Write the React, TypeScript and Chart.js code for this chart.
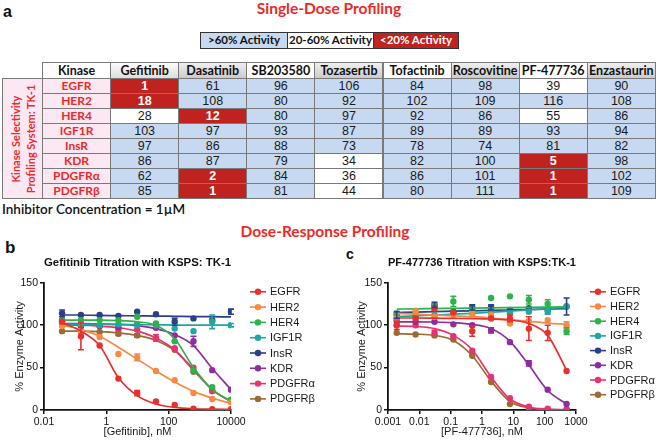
import React, { useEffect, useRef } from "react";
import { Chart, registerables } from "chart.js";

Chart.register(...registerables);

// ---------- Single-dose table data ----------
const kinases = ["EGFR", "HER2", "HER4", "IGF1R", "InsR", "KDR", "PDGFRα", "PDGFRβ"];
const inhibitors = ["Gefitinib", "Dasatinib", "SB203580", "Tozasertib", "Tofactinib", "Roscovitine", "PF-477736", "Enzastaurin"];
const gefitinibActivity = [1, 18, 28, 103, 97, 86, 62, 85];
const dasatinibActivity = [61, 108, 12, 97, 86, 87, 2, 1];
const sb203580Activity = [96, 80, 80, 93, 88, 79, 84, 81];
const tozasertibActivity = [106, 92, 97, 87, 73, 34, 36, 44];
const tofactinibActivity = [84, 102, 92, 89, 78, 82, 86, 80];
const roscovitineActivity = [98, 109, 86, 89, 74, 100, 101, 111];
const pf477736Activity = [39, 116, 55, 93, 81, 5, 1, 1];
const enzastaurinActivity = [90, 108, 86, 94, 82, 98, 102, 109];
const activityColumns = [gefitinibActivity, dasatinibActivity, sb203580Activity, tozasertibActivity, tofactinibActivity, roscovitineActivity, pf477736Activity, enzastaurinActivity];
const legendLabels = [">60% Activity", "20-60% Activity", "<20% Activity"];

// ---------- Dose-response data ----------
const kinaseColors = ["#e8302c", "#f58a45", "#2db34a", "#1fa7a0", "#2c3f8a", "#8e2d9e", "#e8336f", "#9c6b33"];

const gefitinibConc = [0.038, 0.153, 0.61, 2.44, 9.77, 39.1, 156, 625, 2500, 10000];
const gefTickValues = [0.01, 1, 100, 10000];
const gefTickLabels = ["0.01", "1", "100", "10000"];

const gefEGFR = [104, 87, 76, 37, 20, 10, 6, 1.5, 1, 1];
const gefEGFRErr = [0, 16, 0, 0, 3, 0, 0, 0, 0, 0];
const gefEGFRFit = [103, 93, 76, 38, 17, 7, 3, 1.5, 1, 0.8];
const gefHER2 = [99, 92, 86, 66, 62, 46, 35, 20, 13, 9];
const gefHER2Err = [0, 0, 0, 0, 4, 0, 0, 0, 0, 0];
const gefHER2Fit = [100, 95, 87, 74, 60, 46, 33, 22, 14, 8];
const gefHER4 = [106, 106, 106, 106, 110, 102, 81, 47, 27, 12];
const gefHER4Err = [0, 0, 0, 0, 0, 0, 0, 0, 0, 0];
const gefHER4Fit = [106, 106, 106, 105.5, 104, 100, 84, 50, 24, 10];
const gefIGF1R = [101, 101, 100, 101, 100, 100, 96, 93, 104, 100];
const gefIGF1RErr = [0, 0, 0, 0, 0, 0, 0, 0, 8, 2];
const gefIGF1RFit = [101, 101, 101, 100.8, 100.6, 100.4, 100.2, 100, 100, 100];
const gefInsR = [114, 112, 112, 111, 116, 113, 104, 108, 106, 116];
const gefInsRErr = [4, 0, 0, 0, 0, 0, 4, 0, 0, 3];
const gefInsRFit = [112, 112, 111.5, 111.3, 111, 110.8, 110.5, 110.2, 110, 109.8];
const gefKDR = [106, 99, 99, 98, 101, 97, 88, 81, 47, 24];
const gefKDRErr = [0, 0, 0, 0, 0, 0, 0, 6, 0, 0];
const gefKDRFit = [102, 102, 101.5, 101, 99.5, 96, 89, 76, 49, 24];
const gefPDGFRa = [104, 99, 99, 95, 95, 85, 73, 50, 23, 10];
const gefPDGFRaErr = [0, 0, 0, 0, 0, 4, 0, 0, 0, 0];
const gefPDGFRaFit = [100, 100, 99, 97, 93, 85, 71, 48, 24, 10];
const gefPDGFRb = [93, 93, 92, 90, 88, 84, 71, 45, 22, 10];
const gefPDGFRbErr = [0, 0, 0, 2, 2, 0, 0, 0, 0, 0];
const gefPDGFRbFit = [93, 93, 92.5, 91, 88, 82, 70, 47, 24, 10];

const pfConc = [0.0019, 0.0076, 0.0305, 0.122, 0.488, 1.95, 7.81, 31.3, 125, 500];
const pfTickValues = [0.001, 0.01, 0.1, 1, 10, 100, 1000];
const pfTickLabels = ["0.001", "0.01", "0.1", "1", "10", "100", "1000"];

const pfEGFR = [100, 108, 120, 115, 93, 108, 108, 96, 91, 46];
const pfEGFRErr = [5, 0, 3, 0, 6, 0, 4, 14, 9, 0];
const pfEGFRFit = [108.5, 108.5, 108.3, 108, 107.8, 107.3, 106, 102, 88, 47];
const pfHER2 = [108, 117, 110, 112, 113, 112, 102, 105, 106, 100];
const pfHER2Err = [0, 0, 0, 0, 3, 0, 0, 0, 0, 4];
const pfHER2Fit = [114, 113, 112, 111, 110, 108.5, 106.5, 104.5, 102.5, 101];
const pfHER4 = [114, 115, 124, 128, 119, 132, 134, 130, 125, 93];
const pfHER4Err = [0, 0, 0, 6, 0, 0, 0, 5, 5, 4];
const pfHER4Fit = [119, 119.3, 119.6, 119.9, 120.2, 120.5, 120.8, 121.1, 121.4, 121.7];
const pfIGF1R = [108, 112, 112, 113, 115, 116, 114, 116, 116, 122];
const pfIGF1RErr = [0, 0, 0, 0, 0, 0, 0, 0, 3, 0];
const pfIGF1RFit = [110, 111, 112, 113, 114, 115.3, 116.6, 118, 119.5, 121];
const pfInsR = [112, 110, 124, 116, 121, 121, 118, 120, 118, 122];
const pfInsRErr = [4, 0, 3, 0, 3, 3, 0, 0, 0, 10];
const pfInsRFit = [115, 115.5, 116, 116.5, 117, 117.5, 118, 118.5, 119, 119.5];
const pfKDR = [105, 104, 104, 101, 100, 94, 80, 55, 24, 7];
const pfKDRErr = [0, 0, 0, 0, 0, 3, 0, 3, 0, 0];
const pfKDRFit = [104, 104, 103.8, 103, 101, 96, 81, 53, 23, 7];
const pfPDGFRa = [100, 100, 91, 87, 70, 39, 14, 4, 1.5, 1];
const pfPDGFRaErr = [0, 0, 3, 0, 0, 0, 0, 0, 0, 0];
const pfPDGFRaFit = [99, 98.5, 96, 88, 71, 39, 13, 3.5, 1, 0.5];
const pfPDGFRb = [91, 89, 88, 83, 64, 33, 7, 2, 1, 0.5];
const pfPDGFRbErr = [0, 0, 0, 0, 0, 0, 0, 0, 0, 0];
const pfPDGFRbFit = [90, 89.5, 88, 82, 64, 34, 10, 2.5, 0.5, 0.2];

const gefValues = [gefEGFR, gefHER2, gefHER4, gefIGF1R, gefInsR, gefKDR, gefPDGFRa, gefPDGFRb];
const gefErrors = [gefEGFRErr, gefHER2Err, gefHER4Err, gefIGF1RErr, gefInsRErr, gefKDRErr, gefPDGFRaErr, gefPDGFRbErr];
const gefFits = [gefEGFRFit, gefHER2Fit, gefHER4Fit, gefIGF1RFit, gefInsRFit, gefKDRFit, gefPDGFRaFit, gefPDGFRbFit];
const pfValues = [pfEGFR, pfHER2, pfHER4, pfIGF1R, pfInsR, pfKDR, pfPDGFRa, pfPDGFRb];
const pfErrors = [pfEGFRErr, pfHER2Err, pfHER4Err, pfIGF1RErr, pfInsRErr, pfKDRErr, pfPDGFRaErr, pfPDGFRbErr];
const pfFits = [pfEGFRFit, pfHER2Fit, pfHER4Fit, pfIGF1RFit, pfInsRFit, pfKDRFit, pfPDGFRaFit, pfPDGFRbFit];

const ARIAL = "'Liberation Sans', Arial, sans-serif";
const CALIBRI = "Lato, 'Open Sans', sans-serif";
const RED_TEXT = "#ec2a2a";

const errorBarPlugin = {
  id: "errorBars",
  afterDatasetsDraw(chart: any) {
    const ctx = chart.ctx;
    const yScale = chart.scales.y;
    chart.data.datasets.forEach((ds: any, di: number) => {
      if (!ds.errors) return;
      const meta = chart.getDatasetMeta(di);
      ds.errors.forEach((e: number, i: number) => {
        if (!e) return;
        const pt = meta.data[i];
        const v = ds.data[i].y;
        const y1 = yScale.getPixelForValue(v + e);
        const y2 = yScale.getPixelForValue(Math.max(0, v - e));
        ctx.save();
        ctx.strokeStyle = ds.borderColor;
        ctx.lineWidth = 1.6;
        ctx.beginPath();
        ctx.moveTo(pt.x, y1);
        ctx.lineTo(pt.x, y2);
        ctx.moveTo(pt.x - 3, y1);
        ctx.lineTo(pt.x + 3, y1);
        ctx.moveTo(pt.x - 3, y2);
        ctx.lineTo(pt.x + 3, y2);
        ctx.stroke();
        ctx.restore();
      });
    });
  },
};

const sideLegendPlugin = {
  id: "sideLegend",
  afterDraw(chart: any) {
    const opts = chart.options.plugins.sideLegend;
    if (!opts) return;
    const ctx = chart.ctx;
    const { right, top } = chart.chartArea;
    const x = right + opts.dx;
    chart.data.datasets
      .filter((d: any) => d.isPoints)
      .forEach((d: any, i: number) => {
        const y = top + opts.dy + i * opts.step;
        ctx.save();
        ctx.strokeStyle = d.borderColor;
        ctx.fillStyle = d.borderColor;
        ctx.lineWidth = 1.6;
        ctx.beginPath();
        ctx.moveTo(x - 8, y);
        ctx.lineTo(x + 8, y);
        ctx.stroke();
        ctx.beginPath();
        ctx.arc(x, y, 3.2, 0, Math.PI * 2);
        ctx.fill();
        ctx.fillStyle = "#1a1a1a";
        ctx.font = `11px ${ARIAL}`;
        ctx.textBaseline = "middle";
        ctx.textAlign = "left";
        ctx.fillText(d.label, x + 12, y + 0.5);
        ctx.restore();
      });
  },
};

type DoseProps = {
  conc: number[];
  values: number[][];
  errors: number[][];
  fits: number[][];
  tickValues: number[];
  tickLabels: string[];
  title: string;
  xTitle: string;
  left: number;
  width: number;
  yWidth: number;
  padRight: number;
  legendDx: number;
  legendStep: number;
};

function DoseChart(p: DoseProps) {
  const ref = useRef<HTMLCanvasElement>(null);
  useEffect(() => {
    if (!ref.current) return;
    const datasets: any[] = [];
    kinases.forEach((k, i) => {
      datasets.push({
        type: "line",
        label: k + " fit",
        data: p.conc.map((x, j) => ({ x, y: p.fits[i][j] })),
        borderColor: kinaseColors[i],
        backgroundColor: kinaseColors[i],
        borderWidth: 1.7,
        pointRadius: 0,
        cubicInterpolationMode: "monotone",
        fill: false,
      });
      datasets.push({
        type: "scatter",
        label: k,
        isPoints: true,
        errors: p.errors[i],
        data: p.conc.map((x, j) => ({ x, y: p.values[i][j] })),
        borderColor: kinaseColors[i],
        backgroundColor: kinaseColors[i],
        pointRadius: 3.2,
        pointBorderWidth: 0,
        showLine: false,
      });
    });
    const tickFont = { family: ARIAL, size: 10.5 };
    const chart = new Chart(ref.current, {
      type: "line",
      data: { datasets },
      plugins: [errorBarPlugin, sideLegendPlugin],
      options: {
        responsive: false,
        animation: false,
        devicePixelRatio: 1,
        layout: { padding: { right: p.padRight, left: 0, top: 0, bottom: 0 } },
        plugins: {
          legend: { display: false },
          tooltip: { enabled: false },
          title: {
            display: true,
            text: p.title,
            fullSize: false,
            color: "#111",
            font: { family: ARIAL, size: 11.5, weight: "bold" },
            padding: { top: 6, bottom: 13 },
          },
          sideLegend: { dx: p.legendDx, dy: 9, step: p.legendStep },
        } as any,
        scales: {
          x: {
            type: "logarithmic",
            min: p.tickValues[0],
            max: p.tickValues[p.tickValues.length - 1],
            afterBuildTicks: (s: any) => {
              s.ticks = p.tickValues.map((v) => ({ value: v }));
            },
            afterFit: (s: any) => {
              s.height = 30;
            },
            ticks: {
              autoSkip: false,
              maxRotation: 0,
              padding: 2,
              color: "#111",
              font: tickFont,
              callback: (v: any) => {
                const idx = p.tickValues.findIndex((t) => Math.abs(t - v) / t < 1e-6);
                return idx >= 0 ? p.tickLabels[idx] : "";
              },
            },
            grid: { drawOnChartArea: false, drawTicks: true, tickLength: 4, color: "#111", lineWidth: 1.5 },
            border: { display: true, color: "#111", width: 1.8 },
            title: { display: true, text: p.xTitle, color: "#1a1a1a", font: { family: ARIAL, size: 11 }, padding: { top: 0, bottom: 1 } },
          } as any,
          y: {
            min: 0,
            max: 150,
            afterFit: (s: any) => {
              s.width = p.yWidth;
            },
            ticks: { stepSize: 50, padding: 2, color: "#111", font: tickFont },
            grid: { drawOnChartArea: false, drawTicks: true, tickLength: 4, color: "#111", lineWidth: 1.5 },
            border: { display: true, color: "#111", width: 1.8 },
            title: { display: true, text: "% Enzyme Activity", color: "#1a1a1a", font: { family: ARIAL, size: 11 }, padding: { top: 4, bottom: 0 } },
          } as any,
        },
      } as any,
    });
    return () => chart.destroy();
  }, []);
  return (
    <canvas
      ref={ref}
      width={p.width}
      height={190}
      style={{ position: "absolute", left: p.left, top: 250, width: p.width, height: 190 }}
    />
  );
}

const TABLE_LEFT = 42;
const TABLE_TOP = 62;
const COL_W = 68.1;
const HEAD_H = 16;
const ROW_H = 15;
const BORDER = "1px solid #7a7a7a";

function cellColor(v: number) {
  if (v > 60) return { bg: "#c6d9f0", fg: "#1a1a1a", bold: false };
  if (v >= 20) return { bg: "#ffffff", fg: "#1a1a1a", bold: false };
  return { bg: "#c0221f", fg: "#ffffff", bold: true };
}

const headerShade = [false, true, true, false, true, false, true, false, true];

function ActivityTable() {
  const cells: any[] = [];
  const headers = ["Kinase", ...inhibitors];
  headers.forEach((h, c) => {
    const shaded = headerShade[c];
    cells.push(
      <div
        key={"h" + c}
        style={{
          position: "absolute",
          left: TABLE_LEFT + c * COL_W,
          top: TABLE_TOP,
          width: COL_W + 1,
          height: HEAD_H + 1,
          boxSizing: "border-box",
          border: BORDER,
          background: shaded
            ? c === 1
              ? "linear-gradient(#fbfbfb, #dedede)"
              : "linear-gradient(#efefef, #cbcbcb)"
            : "#ffffff",
          font: `bold 12.5px ${CALIBRI}`,
          color: "#111",
          textAlign: "center",
          lineHeight: HEAD_H - 1 + "px",
          whiteSpace: "nowrap",
        }}
      >
        {h}
      </div>
    );
  });
  kinases.forEach((k, r) => {
    const top = TABLE_TOP + HEAD_H + r * ROW_H;
    cells.push(
      <div
        key={"k" + r}
        style={{
          position: "absolute",
          left: TABLE_LEFT,
          top,
          width: COL_W + 1,
          height: ROW_H + 1,
          boxSizing: "border-box",
          border: BORDER,
          background: "#fbe8f3",
          font: `bold 12px ${CALIBRI}`,
          color: RED_TEXT,
          textAlign: "center",
          lineHeight: ROW_H - 1 + "px",
        }}
      >
        {k}
      </div>
    );
    activityColumns.forEach((col, c) => {
      const v = col[r];
      const cc = cellColor(v);
      cells.push(
        <div
          key={"v" + r + "_" + c}
          style={{
            position: "absolute",
            left: TABLE_LEFT + (c + 1) * COL_W,
            top,
            width: COL_W + 1,
            height: ROW_H + 1,
            boxSizing: "border-box",
            border: BORDER,
            background: cc.bg,
            font: `${cc.bold ? "bold " : ""}12.5px ${ARIAL}`,
            color: cc.fg,
            textAlign: "center",
            lineHeight: ROW_H - 1 + "px",
          }}
        >
          {v}
        </div>
      );
    });
  });
  const sideTop = TABLE_TOP + HEAD_H;
  const sideH = kinases.length * ROW_H + 1;
  cells.push(
    <div
      key="side"
      style={{
        position: "absolute",
        left: 2,
        top: sideTop,
        width: TABLE_LEFT - 2 + 1,
        height: sideH,
        boxSizing: "border-box",
        border: BORDER,
        background: "#fbe8f3",
        overflow: "hidden",
      }}
    >
      <div
        style={{
          position: "absolute",
          left: "50%",
          top: "50%",
          transform: "translate(-50%, -50%) rotate(-90deg)",
          font: `bold 11px ${CALIBRI}`,
          color: RED_TEXT,
          textAlign: "center",
          lineHeight: "14.5px",
          whiteSpace: "nowrap",
        }}
      >
        Kinase Selectivity
        <br />
        Profiling System: TK-1
      </div>
    </div>
  );
  return <>{cells}</>;
}

function ActivityLegend() {
  const bgs = ["#c6d9f0", "#ffffff", "#c0221f"];
  const fgs = ["#111", "#111", "#fff"];
  const widths = [87, 86, 85];
  let x = 200;
  return (
    <>
      {legendLabels.map((l, i) => {
        const el = (
          <div
            key={l}
            style={{
              position: "absolute",
              left: x,
              top: 32,
              width: widths[i] + 1,
              height: 17,
              boxSizing: "border-box",
              border: "1.5px solid #333",
              background: bgs[i],
              color: fgs[i],
              font: `bold 11.5px ${CALIBRI}`,
              textAlign: "center",
              lineHeight: "14px",
              whiteSpace: "nowrap",
            }}
          >
            {l}
          </div>
        );
        x += widths[i];
        return el;
      })}
    </>
  );
}

export default function App() {
  return (
    <div
      style={{
        position: "absolute",
        left: 0,
        top: 0,
        width: 660,
        height: 440,
        background: "#fff",
        overflow: "hidden",
      }}
    >
      <div style={{ position: "absolute", left: 3, top: 3, font: `bold 16px ${ARIAL}`, lineHeight: "18px", color: "#111" }}>a</div>
      <div
        style={{
          position: "absolute",
          left: 229,
          width: 200,
          top: -1,
          textAlign: "center",
          font: `bold 15.5px ${CALIBRI}`,
          lineHeight: "19px",
          color: RED_TEXT,
        }}
      >
        Single-Dose Profiling
      </div>
      <ActivityLegend />
      <ActivityTable />
      <div style={{ position: "absolute", left: 2, top: 201, font: `600 13.5px ${CALIBRI}`, lineHeight: "16px", color: "#111" }}>
        Inhibitor Concentration = 1µM
      </div>
      <div
        style={{
          position: "absolute",
          left: 205,
          width: 240,
          top: 222,
          textAlign: "center",
          font: `bold 15.5px ${CALIBRI}`,
          lineHeight: "19px",
          color: RED_TEXT,
        }}
      >
        Dose-Response Profiling
      </div>
      <div style={{ position: "absolute", left: 5, top: 238, font: `bold 17px ${ARIAL}`, lineHeight: "20px", color: "#111" }}>b</div>
      <div style={{ position: "absolute", left: 346, top: 245, font: `bold 14px ${ARIAL}`, lineHeight: "18px", color: "#111" }}>c</div>
      <DoseChart
        conc={gefitinibConc}
        values={gefValues}
        errors={gefErrors}
        fits={gefFits}
        tickValues={gefTickValues}
        tickLabels={gefTickLabels}
        title="Gefitinib Titration with KSPS: TK-1"
        xTitle="[Gefitinib], nM"
        left={9}
        width={321}
        yWidth={35}
        padRight={99}
        legendDx={27}
        legendStep={15.3}
      />
      <DoseChart
        conc={pfConc}
        values={pfValues}
        errors={pfErrors}
        fits={pfFits}
        tickValues={pfTickValues}
        tickLabels={pfTickLabels}
        title="PF-477736 Titration with KSPS:TK-1"
        xTitle="[PF-477736], nM"
        left={351}
        width={309}
        yWidth={37}
        padRight={84}
        legendDx={22}
        legendStep={14.7}
      />
    </div>
  );
}
